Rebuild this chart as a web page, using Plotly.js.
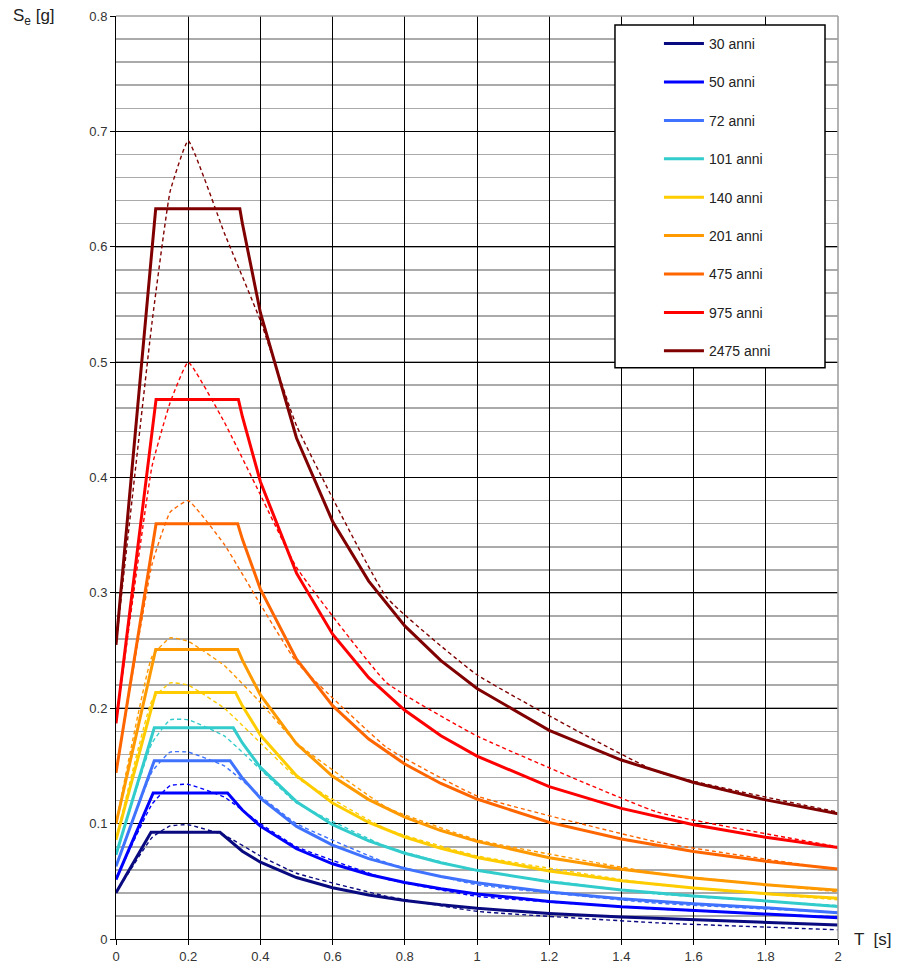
<!DOCTYPE html>
<html>
<head>
<meta charset="utf-8">
<script src="https://cdn.plot.ly/plotly-3.0.1.min.js"></script>
<style>html,body{margin:0;padding:0;background:#fff;}#chart{width:903px;height:976px;}</style>
</head>
<body>
<div id="chart"></div>
<script>
// Series labels and colours
const labels = ["30 anni","50 anni","72 anni","101 anni","140 anni","201 anni","475 anni","975 anni","2475 anni"];
const colors = ["#0a0a80","#0000ff","#3f72ff","#33cccc","#ffcc00","#ff9900","#ff6600","#ff0000","#800000"];

// Solid spectra: T at start, TB, TC, then common decay periods
const decayT = [0.35,0.4,0.5,0.6,0.7,0.8,0.9,1.0,1.2,1.4,1.6,1.8,2.0];
const startT = [0,0,0,0,0,0,0,0,0];
const TB = [0.097,0.103,0.106,0.106,0.110,0.110,0.111,0.111,0.110];
const TC = [0.288,0.309,0.316,0.325,0.331,0.337,0.337,0.339,0.343];
const S0 = [0.040,0.0515,0.063,0.073,0.086,0.100,0.144,0.187,0.255];
const plateau = [0.0925,0.1266,0.1545,0.183,0.2137,0.251,0.360,0.4677,0.633];
const decay30   = [0.0761,0.0666,0.0533,0.0444,0.0381,0.0333,0.0296,0.0266,0.0222,0.0190,0.0167,0.0146,0.0122];
const decay50   = [0.1118,0.0978,0.0782,0.0652,0.0559,0.0489,0.0435,0.0391,0.0326,0.0279,0.0245,0.0216,0.0184];
const decay72   = [0.1395,0.1221,0.0976,0.0814,0.0697,0.0610,0.0542,0.0488,0.0407,0.0349,0.0305,0.0270,0.0228];
const decay101  = [0.1699,0.1487,0.1190,0.0991,0.0850,0.0743,0.0661,0.0595,0.0496,0.0425,0.0372,0.0330,0.0282];
const decay140  = [0.2021,0.1768,0.1415,0.1179,0.1010,0.0884,0.0786,0.0707,0.0589,0.0505,0.0442,0.0393,0.0354];
const decay201  = [0.2417,0.2115,0.1692,0.1410,0.1208,0.1057,0.0940,0.0846,0.0705,0.0604,0.0529,0.0470,0.0423];
const decay475  = [0.3466,0.3033,0.2426,0.2022,0.1733,0.1516,0.1348,0.1213,0.1011,0.0867,0.0758,0.0674,0.0607];
const decay975  = [0.4529,0.3963,0.3171,0.2642,0.2265,0.1982,0.1761,0.1585,0.1321,0.1132,0.0991,0.0881,0.0793];
const decay2475 = [0.6203,0.5428,0.4342,0.3619,0.3102,0.2714,0.2413,0.2171,0.1809,0.1551,0.1357,0.1206,0.1086];
const decays = [decay30,decay50,decay72,decay101,decay140,decay201,decay475,decay975,decay2475];

// Dashed spectra (uniform hazard) at fixed periods
const uhsT = [0,0.1,0.15,0.2,0.3,0.4,0.5,0.75,1.0,1.5,2.0];
const uhs30   = [0.040,0.088,0.098,0.099,0.090,0.072,0.057,0.037,0.024,0.014,0.008];
const uhs50   = [0.052,0.117,0.133,0.134,0.123,0.100,0.080,0.052,0.037,0.026,0.019];
const uhs72   = [0.063,0.145,0.162,0.162,0.150,0.124,0.100,0.066,0.047,0.031,0.023];
const uhs101  = [0.073,0.170,0.190,0.190,0.176,0.147,0.118,0.080,0.059,0.039,0.029];
const uhs140  = [0.086,0.207,0.222,0.220,0.200,0.170,0.140,0.095,0.072,0.047,0.034];
const uhs201  = [0.100,0.245,0.261,0.258,0.237,0.205,0.170,0.114,0.086,0.057,0.041];
const uhs475  = [0.144,0.325,0.370,0.380,0.342,0.290,0.240,0.166,0.124,0.084,0.060];
const uhs975  = [0.187,0.410,0.465,0.500,0.448,0.385,0.322,0.222,0.176,0.110,0.080];
const uhs2475 = [0.255,0.535,0.648,0.692,0.612,0.536,0.445,0.296,0.229,0.145,0.110];
const uhs = [uhs30,uhs50,uhs72,uhs101,uhs140,uhs201,uhs475,uhs975,uhs2475];

// Axis ticks
const xTicks = [0,0.2,0.4,0.6,0.8,1,1.2,1.4,1.6,1.8,2];
const xTickText = ["0","0.2","0.4","0.6","0.8","1","1.2","1.4","1.6","1.8","2"];
const yTicks = [0,0.1,0.2,0.3,0.4,0.5,0.6,0.7,0.8];
const yTickText = ["0","0.1","0.2","0.3","0.4","0.5","0.6","0.7","0.8"];

const traces = [];
for (let i = 0; i < labels.length; i++) {
  traces.push({
    x: uhsT, y: uhs[i], type: 'scatter', mode: 'lines',
    line: {color: colors[i], width: 1.4, dash: '4px,3px', shape: 'spline', smoothing: 0.35},
    showlegend: false, hoverinfo: 'skip'
  });
}
for (let i = 0; i < labels.length; i++) {
  traces.push({
    x: [startT[i], TB[i], TC[i]].concat(decayT),
    y: [S0[i], plateau[i], plateau[i]].concat(decays[i]),
    type: 'scatter', mode: 'lines', name: labels[i],
    legendgroup: 'g' + i,
    line: {color: colors[i], width: 3},
  });
}

const layout = {
  width: 903, height: 976,
  margin: {l: 116, r: 65, t: 16, b: 36.5},
  paper_bgcolor: '#fff', plot_bgcolor: '#fff',
  font: {family: 'Liberation Sans, Arial, sans-serif', color: '#333', size: 13},
  showlegend: true,
  legend: {
    x: 0.752, y: 0.987, xanchor: 'left', yanchor: 'top',
    bgcolor: 'rgba(0,0,0,0)', borderwidth: 0,
    font: {size: 14, color: '#222'},
    traceorder: 'grouped', tracegroupgap: 17.2, itemwidth: 40
  },
  xaxis: {
    range: [0, 2], tickvals: xTicks, ticktext: xTickText,
    showgrid: true, gridcolor: '#000', gridwidth: 1,
    zeroline: false, showline: true, linecolor: '#000', linewidth: 1,
    ticks: 'outside', ticklen: 5, tickcolor: '#000',
    tickfont: {size: 13, color: '#333'}, fixedrange: true
  },
  yaxis: {
    range: [0, 0.8], tickvals: yTicks, ticktext: yTickText,
    showgrid: true, gridcolor: '#000', gridwidth: 1,
    minor: {dtick: 0.02, showgrid: true, gridcolor: '#aaaaaa', gridwidth: 1.6},
    zeroline: false, showline: true, linecolor: '#000', linewidth: 1,
    ticks: 'outside', ticklen: 5, tickcolor: '#000',
    tickfont: {size: 13, color: '#333'}, fixedrange: true
  },
  shapes: [
    {type: 'line', xref: 'paper', yref: 'paper', x0: 0, x1: 1, y0: 1, y1: 1, line: {color: '#a0a0a0', width: 1.6}},
    {type: 'line', xref: 'paper', yref: 'paper', x0: 1, x1: 1, y0: 0, y1: 1, line: {color: '#a0a0a0', width: 1.6}},
    {type: 'rect', xref: 'paper', yref: 'paper', x0: 0.6911, x1: 0.982, y0: 0.6188, y1: 0.9903,
     fillcolor: '#fff', line: {color: '#000', width: 1.5}, layer: 'above'}
  ],
  annotations: [
    {xref: 'paper', yref: 'paper', x: -0.1455, y: 0.999, xanchor: 'left', yanchor: 'middle',
     text: 'S<sub>e</sub> [g]', showarrow: false, font: {size: 17, color: '#222'}},
    {xref: 'paper', yref: 'paper', x: 1.02, y: -0.001, xanchor: 'left', yanchor: 'middle',
     text: 'T  [s]', showarrow: false, font: {size: 17, color: '#222'}}
  ]
};

Plotly.newPlot('chart', traces, layout, {staticPlot: true, displayModeBar: false});
</script>
</body>
</html>
